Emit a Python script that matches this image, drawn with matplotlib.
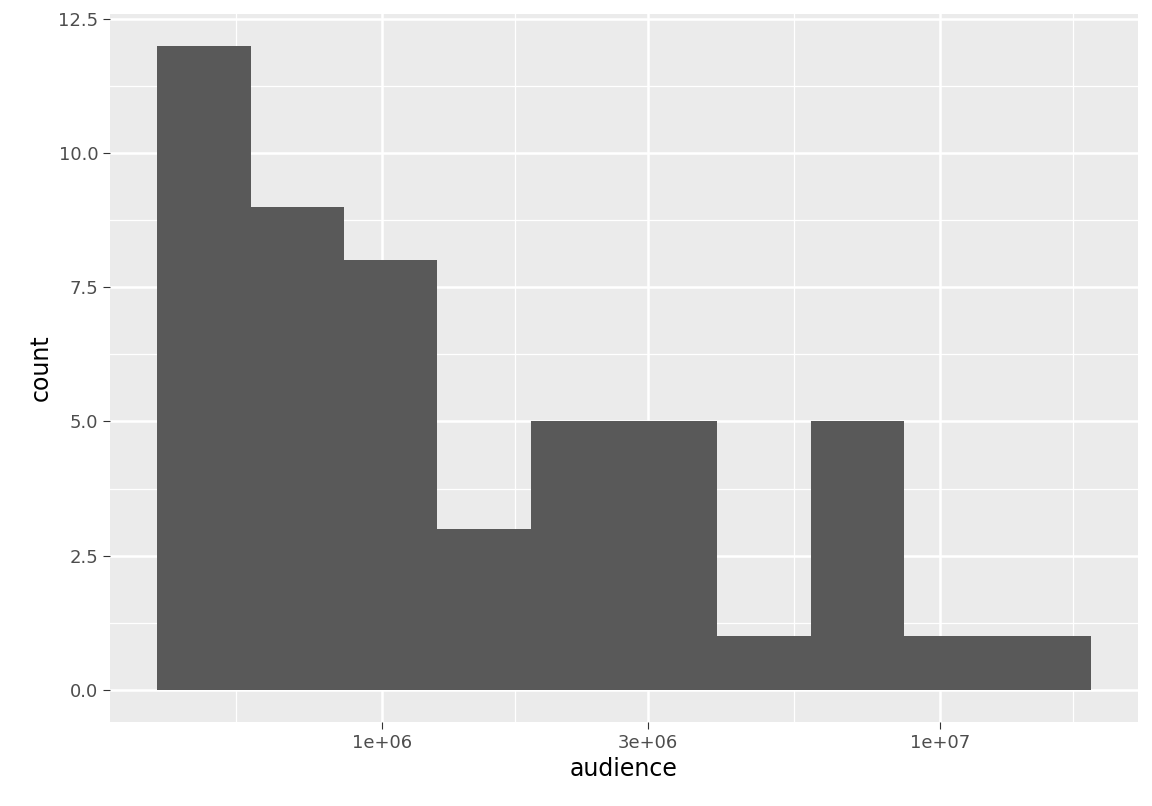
import numpy as np
import matplotlib
matplotlib.use("Agg")
import matplotlib.pyplot as plt

counts = [12, 9, 8, 3, 5, 5, 1, 5, 1, 1]
log_lo, log_hi = 5.597, 7.2706
edges = np.logspace(log_lo, log_hi, len(counts) + 1)
xticks = [1e6, 3e6, 1e7]
xticklabels = ["1e+06", "3e+06", "1e+07"]
xminor = [10**5.7386, 10**6.2386, 10**6.7386, 10**7.2386]
yticks = [0, 2.5, 5, 7.5, 10, 12.5]
yticklabels = ["0.0", "2.5", "5.0", "7.5", "10.0", "12.5"]

fig = plt.figure(figsize=(11.52, 8.06), dpi=100)
ax = fig.add_axes([110/1152, 1-722/806, (1138-110)/1152, (722-13.6)/806])
ax.set_facecolor("#EBEBEB")
ax.set_xscale("log")
ax.set_xlim(10**5.5125, 10**7.3548)
ax.set_ylim(-0.6, 12.6)
ax.set_xticks(xticks)
ax.set_xticklabels(xticklabels)
ax.set_xticks(xminor, minor=True)
ax.set_xticklabels([], minor=True)
ax.set_yticks(yticks)
ax.set_yticklabels(yticklabels)
ax.set_yticks([1.25, 3.75, 6.25, 8.75, 11.25], minor=True)
ax.grid(True, which="major", color="white", linewidth=1.8)
ax.grid(True, which="minor", color="white", linewidth=0.9)
ax.set_axisbelow(True)
ax.tick_params(which="major", length=5, color="#333333", labelsize=13, labelcolor="#4D4D4D")
ax.tick_params(which="minor", length=0)
for s in ax.spines.values():
    s.set_visible(False)
ax.bar(edges[:-1], counts, width=np.diff(edges), align="edge", color="#595959", linewidth=0)
ax.set_xlabel("audience", fontsize=17, color="black")
ax.set_ylabel("count", fontsize=17, color="black")
fig.savefig("out.png", dpi=100)
